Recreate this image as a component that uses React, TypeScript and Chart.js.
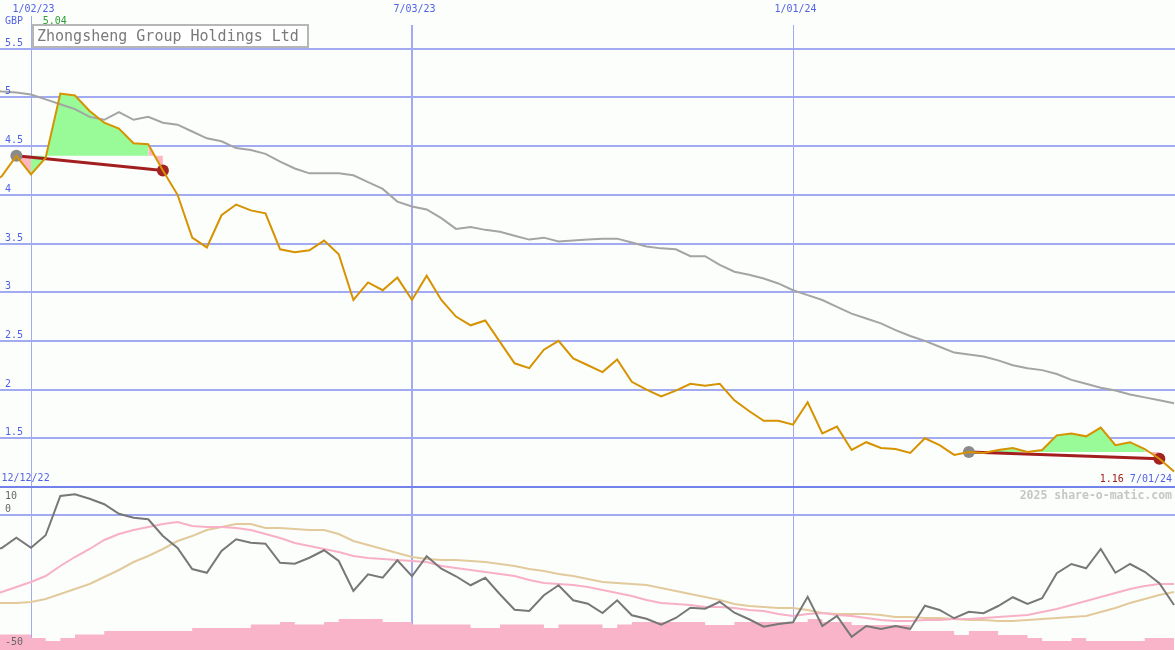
import React, { useEffect, useRef } from 'react';
import { Chart, registerables } from 'chart.js';

Chart.register(...registerables);

// ---------------- data ----------------
const TITLE = 'Zhongsheng Group Holdings Ltd';
const CURRENCY = 'GBP';
const WATERMARK = '2025 share-o-matic.com';
const START_DATE = '2022-12-12';
const END_DATE = '2024-07-01';

const xTickDates = ['2023-01-02', '2023-07-03', '2024-01-01'];
const priceTicks = [5.5, 5, 4.5, 4, 3.5, 3, 2.5, 2, 1.5];
const oscTicks = [10, 0, -50];

// weekly closing price (GBP), one value per week from 12/12/22
const price = [
  4.10, 4.19, 4.40, 4.21, 4.38, 5.04, 5.02, 4.86, 4.74, 4.68,
  4.53, 4.52, 4.25, 4.00, 3.56, 3.46, 3.79, 3.90, 3.84, 3.81,
  3.44, 3.41, 3.43, 3.53, 3.39, 2.92, 3.10, 3.02, 3.15, 2.92,
  3.17, 2.92, 2.75, 2.66, 2.71, 2.49, 2.27, 2.22, 2.41, 2.50,
  2.32, 2.25, 2.18, 2.31, 2.08, 2.00, 1.93, 1.99, 2.06, 2.04,
  2.06, 1.89, 1.78, 1.68, 1.68, 1.64, 1.87, 1.55, 1.62, 1.38,
  1.46, 1.40, 1.39, 1.35, 1.50, 1.43, 1.33, 1.36, 1.35, 1.38,
  1.40, 1.36, 1.38, 1.53, 1.55, 1.52, 1.61, 1.43, 1.46, 1.39,
  1.29, 1.16,
];

// long moving average of price (grey)
const priceAvg = [
  5.08, 5.06, 5.05, 5.03, 4.98, 4.93, 4.88, 4.80, 4.77, 4.85,
  4.77, 4.80, 4.74, 4.72, 4.65, 4.58, 4.55, 4.48, 4.46, 4.42,
  4.34, 4.27, 4.22, 4.22, 4.22, 4.20, 4.13, 4.06, 3.93, 3.88,
  3.85, 3.76, 3.65, 3.67, 3.64, 3.62, 3.58, 3.54, 3.56, 3.52,
  3.53, 3.54, 3.55, 3.55, 3.51, 3.47, 3.45, 3.44, 3.37, 3.37,
  3.28, 3.21, 3.18, 3.14, 3.09, 3.02, 2.97, 2.92, 2.85, 2.78,
  2.73, 2.68, 2.61, 2.55, 2.50, 2.44, 2.38, 2.36, 2.34, 2.30,
  2.25, 2.22, 2.20, 2.16, 2.10, 2.06, 2.02, 1.99, 1.95, 1.92,
  1.89, 1.86,
];

// momentum oscillator (dark grey)
const oscillator = [
  -14.8, -13.2, -9.1, -13.1, -8.1, 7.6, 8.3, 6.5, 4.3, 0.5,
  -1.1, -1.7, -8.4, -13.2, -21.6, -23.1, -14.4, -9.7, -11.1, -11.5,
  -19.1, -19.5, -17.1, -14.1, -18.4, -30.4, -23.7, -25.1, -18.1, -24.5,
  -16.5, -21.5, -24.5, -28.1, -25.1, -31.7, -37.9, -38.4, -32.1, -28.1,
  -34.1, -35.5, -39.2, -34.1, -40.1, -41.5, -43.9, -41.2, -37.1, -37.5,
  -34.7, -39.1, -41.7, -44.7, -43.6, -42.9, -32.7, -44.4, -40.4, -48.7,
  -44.4, -45.6, -44.4, -45.6, -36.3, -38.0, -41.3, -38.7, -39.3, -36.4,
  -32.9, -35.6, -33.3, -23.3, -19.6, -21.3, -13.6, -23.1, -19.6, -22.7,
  -27.3, -36.0,
];

// oscillator averages (pink = fast, tan = slow)
const oscAvgFast = [
  -32.8, -30.8, -28.8, -26.8, -24.4, -20.4, -16.8, -13.6, -10.0, -7.6,
  -6.0, -4.8, -3.6, -2.8, -4.4, -4.8, -4.8, -5.2, -6.0, -7.6,
  -9.2, -11.2, -12.4, -13.6, -14.8, -16.4, -17.2, -17.6, -18.0, -18.4,
  -18.8, -20.4, -21.2, -22.0, -22.8, -23.6, -24.4, -26.0, -27.2, -27.6,
  -28.0, -28.8, -30.0, -31.2, -32.4, -34.0, -35.2, -35.6, -36.0, -36.8,
  -36.8, -37.2, -38.0, -38.4, -39.6, -40.4, -39.6, -39.2, -40.0, -40.4,
  -41.2, -42.0, -42.4, -42.4, -42.0, -42.0, -41.6, -41.6, -41.2, -40.8,
  -40.4, -40.0, -38.8, -37.6, -36.0, -34.4, -32.8, -31.2, -29.6, -28.4,
  -27.6, -27.6,
];
const oscAvgSlow = [
  -35.2, -35.2, -35.2, -34.8, -33.6, -31.6, -29.6, -27.6, -24.8, -22.0,
  -18.8, -16.4, -13.6, -10.4, -8.4, -6.0, -4.8, -3.6, -3.6, -5.2,
  -5.2, -5.6, -6.0, -6.0, -7.6, -10.4, -12.0, -13.6, -15.2, -16.8,
  -17.6, -18.0, -18.0, -18.4, -18.8, -19.6, -20.4, -21.6, -22.4, -23.6,
  -24.4, -25.6, -26.8, -27.2, -27.6, -28.0, -29.2, -30.4, -31.6, -32.8,
  -34.0, -35.6, -36.4, -36.8, -37.2, -37.2, -38.0, -39.2, -39.6, -39.6,
  -39.6, -40.0, -40.8, -40.8, -41.2, -41.2, -41.6, -42.0, -42.0, -42.4,
  -42.4, -42.0, -41.6, -41.2, -40.8, -40.4, -38.8, -37.2, -35.2, -33.6,
  -32.0, -30.8,
];

// weekly volume (relative units), for the week ending at each date
const volume = [
  7.7, 7.7, 7.7, 7.7, 6.0, 4.5, 6.0, 7.7, 7.7, 9.5,
  9.5, 9.5, 9.5, 9.5, 9.5, 11.0, 11.0, 11.0, 11.0, 12.7,
  12.7, 14.0, 12.7, 12.7, 14.0, 15.5, 15.5, 15.5, 14.0, 14.0,
  12.7, 12.7, 12.7, 12.7, 11.0, 11.0, 12.7, 12.7, 12.7, 11.0,
  12.7, 12.7, 12.7, 11.0, 12.7, 14.0, 14.0, 14.0, 14.0, 14.0,
  12.5, 12.5, 14.0, 14.0, 14.0, 14.0, 14.0, 15.5, 14.0, 14.0,
  12.5, 12.5, 12.5, 12.5, 9.5, 9.5, 9.5, 7.5, 9.5, 9.5,
  7.5, 7.5, 6.0, 4.5, 4.5, 6.0, 4.5, 4.5, 4.5, 4.5,
  6.0, 6.0,
];

// trades: week index of buy and sell signals
const buyIdx = [2, 67];
const sellIdx = [12, 80];

// ---------------- helpers ----------------
const parseIso = (iso: string) => iso.split('-').map(Number);
const dayOf = (iso: string) => {
  const [y, m, d] = parseIso(iso);
  const [ys, ms, ds] = parseIso(START_DATE);
  return (Date.UTC(y, m - 1, d) - Date.UTC(ys, ms - 1, ds)) / 864e5;
};
const fmtDate = (iso: string) => {
  const [y, m, d] = parseIso(iso);
  return `${m}/${String(d).padStart(2, '0')}/${String(y % 100).padStart(2, '0')}`;
};
const days = price.map((_, i) => i * 7);
const pts = (arr: number[]) => arr.map((v, i) => ({ x: days[i], y: v }));

// ---------------- styles ----------------
const BG = '#fcfefc';
const GRID = '#a2aaf2';
const SEP = '#7282ea';
const BLUE = '#5262e6';
const FONT = '"DejaVu Sans Mono", monospace';
const GREEN_FILL = '#98fb98';
const PINK_FILL = '#ffb6c1';

const panelPlugin = {
  id: 'panelDecor',
  beforeDraw(chart: any) {
    const { ctx, width, height } = chart;
    ctx.save();
    ctx.fillStyle = BG;
    ctx.fillRect(0, 0, width, height);
    ctx.restore();
  },
  beforeDatasetsDraw(chart: any) {
    const { ctx, width, height, scales } = chart;
    const xs = scales.x;
    const yP = scales.yPrice;
    const yO = scales.yOsc;
    ctx.save();
    // vertical date lines
    xTickDates.forEach((d, i) => {
      const px = xs.getPixelForValue(dayOf(d));
      const w = i === 1 ? 2 : 1;
      ctx.strokeStyle = GRID;
      ctx.lineWidth = w;
      ctx.beginPath();
      const xx = w === 1 ? Math.floor(px) + 0.5 : Math.round(px);
      ctx.moveTo(xx, i === 0 ? 16 : 25);
      ctx.lineTo(xx, height);
      ctx.stroke();
    });
    // horizontal price grid
    ctx.lineWidth = 2;
    ctx.strokeStyle = GRID;
    priceTicks.forEach((v) => {
      const y = Math.round(yP.getPixelForValue(v));
      ctx.beginPath();
      ctx.moveTo(0, y);
      ctx.lineTo(width, y);
      ctx.stroke();
    });
    // oscillator zero line
    const y0 = Math.round(yO.getPixelForValue(0));
    ctx.beginPath();
    ctx.moveTo(0, y0);
    ctx.lineTo(width, y0);
    ctx.stroke();
    // panel separator (price 1.0)
    const ys = Math.round(yP.getPixelForValue(1));
    ctx.strokeStyle = SEP;
    ctx.beginPath();
    ctx.moveTo(0, ys);
    ctx.lineTo(width, ys);
    ctx.stroke();
    ctx.restore();
  },
  afterDatasetsDraw(chart: any) {
    const { ctx, width, scales } = chart;
    const xs = scales.x;
    const yP = scales.yPrice;
    const yO = scales.yOsc;
    ctx.save();
    ctx.textBaseline = 'middle';
    ctx.font = `10px ${FONT}`;
    // top date labels
    ctx.fillStyle = BLUE;
    ctx.textAlign = 'center';
    xTickDates.forEach((d) => {
      ctx.fillText(fmtDate(d), xs.getPixelForValue(dayOf(d)) + 2.5, 9);
    });
    // currency + price labels
    ctx.textAlign = 'left';
    ctx.fillText(CURRENCY, 5, 21);
    priceTicks.forEach((v) => {
      ctx.fillText(String(v), 5, yP.getPixelForValue(v) - 5.5);
    });
    // max price
    const maxP = Math.max(...price);
    const maxI = price.indexOf(maxP);
    ctx.fillStyle = '#2e9e2e';
    ctx.fillText(maxP.toFixed(2), xs.getPixelForValue(days[maxI]) - 17.5, 21.5);
    // start / end labels
    const sepY = yP.getPixelForValue(1);
    ctx.fillStyle = BLUE;
    ctx.fillText(fmtDate(START_DATE), 1.5, sepY - 8.5);
    ctx.textAlign = 'right';
    const endTxt = fmtDate(END_DATE);
    ctx.fillText(endTxt, width - 3, sepY - 7.5);
    const endW = ctx.measureText(endTxt + ' ').width;
    ctx.fillStyle = '#a02020';
    ctx.fillText(price[price.length - 1].toFixed(2), width - 3 - endW, sepY - 7.5);
    // watermark
    ctx.fillStyle = '#c6c6c6';
    ctx.font = `bold 11.5px ${FONT}`;
    ctx.fillText(WATERMARK, width - 3, sepY + 9.5);
    // oscillator labels
    ctx.font = `10px ${FONT}`;
    ctx.fillStyle = '#666666';
    ctx.textAlign = 'left';
    const offs = [6.5, -6, 2];
    oscTicks.forEach((v, i) => {
      ctx.fillText(String(v), 5, yO.getPixelForValue(v) + offs[i]);
    });
    // title box
    ctx.fillStyle = '#ffffff';
    ctx.fillRect(33, 25, 275, 22);
    ctx.strokeStyle = '#b6b6b6';
    ctx.lineWidth = 2;
    ctx.strokeRect(33, 25, 275, 22);
    ctx.fillStyle = '#7a7a7a';
    ctx.font = `15px ${FONT}`;
    ctx.textBaseline = 'alphabetic';
    ctx.fillText(TITLE, 37, 41);
    ctx.restore();
  },
};

export default function App() {
  const ref = useRef<HTMLCanvasElement>(null);

  useEffect(() => {
    document.body.style.margin = '0';
    const canvas = ref.current;
    if (!canvas) return;

    const fillSets: any[] = [];
    buyIdx.forEach((b, t) => {
      const s = sellIdx[t];
      const level = price[b];
      const seg = (from: number, to: number, color: string) => ({
        type: 'line',
        data: pts(price).slice(from, to + 1),
        yAxisID: 'yPrice',
        fill: { value: level },
        backgroundColor: color,
        borderColor: 'rgba(0,0,0,0)',
        borderWidth: 0,
        pointRadius: 0,
        order: 15,
      });
      fillSets.push(seg(b, b + 1, PINK_FILL), seg(b + 1, s - 1, GREEN_FILL), seg(s - 1, s, PINK_FILL));
    });

    const tradeLines = buyIdx.map((b, t) => ({
      type: 'line',
      data: [
        { x: days[b], y: price[b] },
        { x: days[sellIdx[t]], y: price[sellIdx[t]] },
      ],
      yAxisID: 'yPrice',
      borderColor: '#a31f1f',
      borderWidth: 3,
      pointRadius: 0,
      fill: false,
      order: 6,
    }));

    const chart = new Chart(canvas, {
      type: 'line',
      data: {
        datasets: [
          {
            label: 'Volume',
            data: pts(volume),
            yAxisID: 'yVol',
            stepped: 'after',
            fill: 'origin',
            backgroundColor: '#f9b4c9',
            borderColor: 'rgba(0,0,0,0)',
            borderWidth: 0,
            pointRadius: 0,
            order: 20,
          },
          ...fillSets,
          {
            label: 'Average',
            data: pts(priceAvg),
            yAxisID: 'yPrice',
            borderColor: '#a4a4a4',
            borderWidth: 2,
            pointRadius: 0,
            fill: false,
            order: 12,
          },
          {
            label: 'Slow',
            data: pts(oscAvgSlow),
            yAxisID: 'yOsc',
            borderColor: '#e2ca9c',
            borderWidth: 2,
            pointRadius: 0,
            fill: false,
            order: 11,
          },
          {
            label: 'Fast',
            data: pts(oscAvgFast),
            yAxisID: 'yOsc',
            borderColor: '#f8b0c6',
            borderWidth: 2,
            pointRadius: 0,
            fill: false,
            order: 10,
          },
          {
            label: 'Oscillator',
            data: pts(oscillator),
            yAxisID: 'yOsc',
            borderColor: '#777777',
            borderWidth: 2,
            pointRadius: 0,
            fill: false,
            order: 9,
          },
          ...tradeLines,
          {
            type: 'scatter',
            label: 'Buy',
            data: buyIdx.map((i) => ({ x: days[i], y: price[i] })),
            yAxisID: 'yPrice',
            pointRadius: 6,
            pointBackgroundColor: '#8a8a8a',
            pointBorderWidth: 0,
            order: 5,
          },
          {
            type: 'scatter',
            label: 'Sell',
            data: sellIdx.map((i) => ({ x: days[i], y: price[i] })),
            yAxisID: 'yPrice',
            pointRadius: 6,
            pointBackgroundColor: '#a52222',
            pointBorderWidth: 0,
            order: 5,
          },
          {
            label: 'Price',
            data: pts(price),
            yAxisID: 'yPrice',
            borderColor: '#d69200',
            borderWidth: 2,
            pointRadius: 0,
            fill: false,
            order: 4,
          },
        ] as any,
      },
      options: {
        animation: false,
        responsive: false,
        devicePixelRatio: 1,
        layout: { padding: 0, autoPadding: false },
        events: [],
        plugins: {
          legend: { display: false },
          tooltip: { enabled: false },
          title: { display: false },
        },
        elements: { line: { tension: 0 } },
        scales: {
          x: { type: 'linear', min: 6.19, max: 567.47, display: false },
          yPrice: { type: 'linear', min: -0.6735, max: 6.0, display: false },
          yOsc: { type: 'linear', min: -54, max: 206, display: false },
          yVol: { type: 'linear', min: 0, max: 325, display: false },
        },
      },
      plugins: [panelPlugin],
    } as any);

    return () => chart.destroy();
  }, []);

  return (
    <div style={{ width: 1175, height: 650 }}>
      <canvas ref={ref} width={1175} height={650} style={{ display: 'block' }} />
    </div>
  );
}
